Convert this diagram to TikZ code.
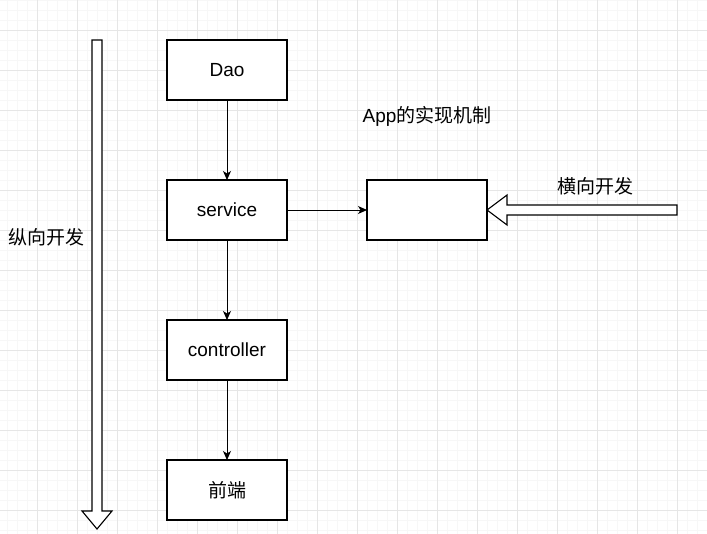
\documentclass[tikz,border=0pt]{standalone}
\usepackage{fontspec}
\setmainfont{Liberation Sans}
\newfontfamily\cjk{Noto Sans CJK SC}
\usetikzlibrary{arrows.meta,positioning}
\definecolor{ink}{HTML}{000000}
\definecolor{gridminor}{HTML}{F7F7F7}
\definecolor{gridmajor}{HTML}{E6E6E6}
\tikzset{
  layer/.style={draw=ink,fill=white,line width=1.1pt,minimum width=120pt,minimum height=60pt,
    inner sep=0pt,outer sep=0pt,font=\fontsize{19}{22}\selectfont},
  flow/.style={-{Stealth[length=9pt,width=8pt,inset=2.5pt]},line width=0.9pt,draw=ink},
  hollow/.style={draw=ink,fill=white,line width=1.1pt,line join=miter},
  caption/.style={font=\fontsize{19}{22}\selectfont,inner sep=0pt},
}

\begin{document}
\begin{tikzpicture}[x=1pt,y=-1pt]
  \useasboundingbox (0,0) rectangle (707,534);
  % grid paper
  \fill[white] (0,0) rectangle (707,534);
  \foreach \x in {7,17,...,707} \draw[gridminor,line width=0.7pt] (\x,0) -- (\x,534);
  \foreach \y in {0,10,...,534} \draw[gridminor,line width=0.7pt] (0,\y) -- (707,\y);
  \foreach \x in {37,77,...,707} \draw[gridmajor,line width=0.7pt] (\x,0) -- (\x,534);
  \foreach \y in {30,70,...,534} \draw[gridmajor,line width=0.7pt] (0,\y) -- (707,\y);

  % layers
  \node[layer] (dao) at (227,70) {Dao};
  \node[layer,below=80pt of dao] (svc) {service};
  \node[layer,below=80pt of svc] (ctrl) {controller};
  \node[layer,below=80pt of ctrl] (front) {\cjk 前端};
  \node[layer,right=80pt of svc] (app) {};

  \draw[flow] (dao) -- (svc);
  \draw[flow] (svc) -- (ctrl);
  \draw[flow] (ctrl) -- (front);
  \draw[flow] (svc) -- (app);

  % big hollow arrows
  \draw[hollow] (92,40) -- (102,40) -- (102,511) -- (112,511) -- (97,529) -- (82,511) -- (92,511) -- cycle;
  \draw[hollow] (677,205) -- (677,215) -- (507,215) -- (507,225) -- (487,210) -- (507,195) -- (507,205) -- cycle;

  \node[caption] (vdev) at (47,237) {\cjk 纵向开发};
  \node[caption] (hdev) at (595,186) {\cjk 横向开发};
  \node[caption] (title) at (427,116) {App{\cjk 的实现机制}};
\end{tikzpicture}
\end{document}
